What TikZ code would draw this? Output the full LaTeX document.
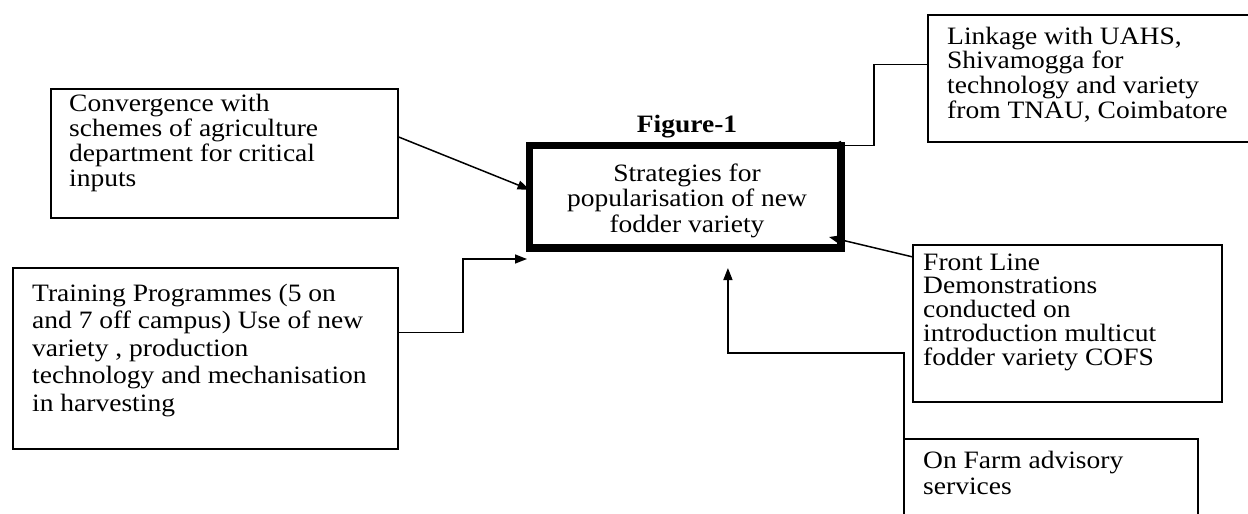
\documentclass[tikz,border=0pt]{standalone}
\usepackage{fontspec}
\setmainfont{Liberation Serif}
\usetikzlibrary{arrows.meta,calc}
\newcommand{\boxlines}[3]{\scalebox{1.1}[1]{\fontsize{25}{#1}\selectfont\begin{tabular}[t]{@{}#2@{}}#3\end{tabular}}}
\begin{document}
\begin{tikzpicture}[x=1pt,y=-1pt,
  box/.style={draw, line width=1.4pt, inner sep=0pt, outer sep=0pt, anchor=north west},
  mainbox/.style={draw, line width=7.5pt, inner sep=0pt, outer sep=0pt, anchor=north west},
  txt/.style={inner sep=0pt, anchor=base west},
  conn/.style={line width=1.5pt, -{Triangle[length=12pt,width=9pt]}}]
\useasboundingbox (0,0) rectangle (1248,514);
\clip (0,0) rectangle (1248,514);

% boxes
\node[box, minimum width=347pt, minimum height=129pt] (conv) at (51,89) {};
\node[box, minimum width=385pt, minimum height=181pt] (train) at (13,268) {};
\node[box, minimum width=330pt, minimum height=127pt] (tr) at (928,15) {};
\node[box, minimum width=309pt, minimum height=157pt] (fld) at (913,245) {};
\node[box, minimum width=294pt, minimum height=100pt] (farm) at (904,439) {};
\node[mainbox, minimum width=311.5pt, minimum height=102.5pt] (main) at (529.5,145.5) {};

% texts
\node[inner sep=0pt, anchor=base] (fig) at (687,132) {\scalebox{1.1}[1]{\fontsize{25}{26}\selectfont\bfseries Figure-1}};
\node[inner sep=0pt, anchor=base] (maintext) at (687,181) {\boxlines{25.5}{c}{Strategies for\\popularisation of new\\fodder variety}};
\node[txt] (convtext) at (69,111) {\boxlines{25.3}{l}{Convergence with\\schemes of agriculture\\department for critical\\inputs}};
\node[txt] (traintext) at (32,301) {\boxlines{27.5}{l}{Training Programmes (5 on\\and 7 off campus) Use of new\\variety , production\\technology and mechanisation\\in harvesting}};
\node[txt] (trtext) at (947,44) {\boxlines{24.5}{l}{Linkage with UAHS,\\Shivamogga for\\technology and variety\\from TNAU, Coimbatore}};
\node[txt] (fldtext) at (923,270) {\boxlines{22}{l}{Front Line\\Demonstrations\\conducted on\\introduction multicut\\fodder variety COFS}};
\node[txt] (farmtext) at (923,468) {\boxlines{26.5}{l}{On Farm advisory\\services}};

% connector ends
\coordinate (trainend) at (527,259);

% connectors
\draw[conn] ($(conv.north east)!0.37!(conv.south east)$) -- ($(main.north west)!0.43!(main.south west)$);
\draw[conn] ($(train.north east)!0.355!(train.south east)$) -| ([xshift=-64pt]trainend) -- (trainend);
\draw[conn] ($(tr.north west)!0.39!(tr.south west)$) -| ($(main.north east)+(33,0)$) -- ($(main.north east)+(-12,0)$);
\draw[conn] ($(fld.north west)+(0,12)$) -- ($(main.south east)+(-12,-11)$);
\draw[conn] (farm.north west) -- ++(0,-86) -| ($(main.south west)!0.637!(main.south east)+(0,20)$);
\end{tikzpicture}
\end{document}
